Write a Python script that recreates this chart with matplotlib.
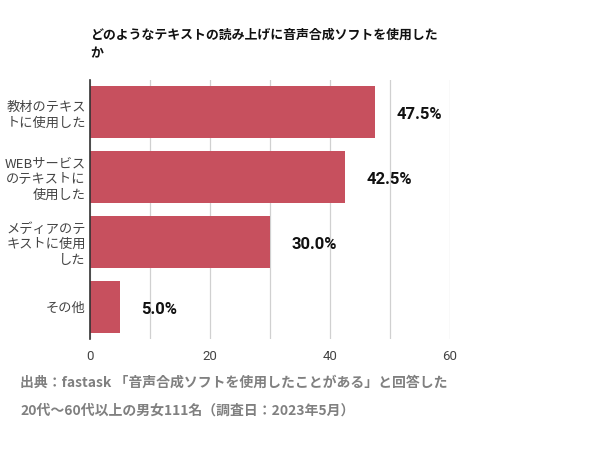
import matplotlib
matplotlib.use('Agg')
import matplotlib.pyplot as plt

plt.rcParams['font.family'] = ['Noto Sans CJK JP', 'DejaVu Sans']

categories = ['教材のテキス\nトに使用した', 'WEBサービス\nのテキストに\n使用した', 'メディアのテ\nキストに使用\nした', 'その他']
values = [47.5, 42.5, 30.0, 5.0]
value_labels = ['47.5%', '42.5%', '30.0%', '5.0%']
xticks = [0, 20, 40, 60]
title = 'どのようなテキストの読み上げに音声合成ソフトを使用した\nか'
footer1 = '出典：fastask 「音声合成ソフトを使用したことがある」と回答した'
footer2 = '20代～60代以上の男女111名（調査日：2023年5月）'

bar_color = '#c7505e'

fig = plt.figure(figsize=(6.04, 4.5), dpi=100)
ax = fig.add_axes([90 / 604, 1 - 339 / 450, 360 / 604, 259 / 450])

y = list(range(len(categories)))
ax.barh(y, values, height=0.8, color=bar_color, zorder=3)
for yi, v, lab in zip(y, values, value_labels):
    ax.text(v + 3.6, yi + 0.04, lab, ha='left', va='center', fontsize=12, fontweight='bold',
            color='#111111', family=['Roboto', 'Noto Sans CJK JP'])

ax.set_xlim(0, 60)
ax.set_ylim(len(categories) - 0.5, -0.5)
ax.set_xticks(xticks)
ax.set_xticks(range(0, 61, 10), minor=True)
ax.set_xticklabels([str(t) for t in xticks], family=['Roboto', 'Noto Sans CJK JP'],
                   fontsize=9.5, color='#444444')
ax.set_yticks(y)
ax.set_yticklabels(categories, fontsize=9.5, color='#444444', linespacing=1.25)
ax.tick_params(axis='both', which='both', length=0)
ax.tick_params(axis='x', pad=8)
ax.tick_params(axis='y', pad=3)
ax.grid(axis='x', which='both', color='#d0d0d0', linewidth=0.9, zorder=0)

for s in ['top', 'right', 'bottom']:
    ax.spines[s].set_visible(False)
ax.spines['left'].set_color('#333333')
ax.spines['left'].set_linewidth(1.2)
ax.spines['left'].set_zorder(4)

fig.text(90 / 604, 1 - 28 / 450, title, ha='left', va='top', fontsize=9.3,
         fontweight='bold', color='#111111', linespacing=1.35)

fig.text(20 / 604, 1 - 383 / 450, footer1, ha='left', va='center', fontsize=10,
         fontweight='bold', color='#808080')
fig.text(20 / 604, 1 - 411 / 450, footer2, ha='left', va='center', fontsize=10,
         fontweight='bold', color='#808080')

fig.savefig('out.png', dpi=100)
